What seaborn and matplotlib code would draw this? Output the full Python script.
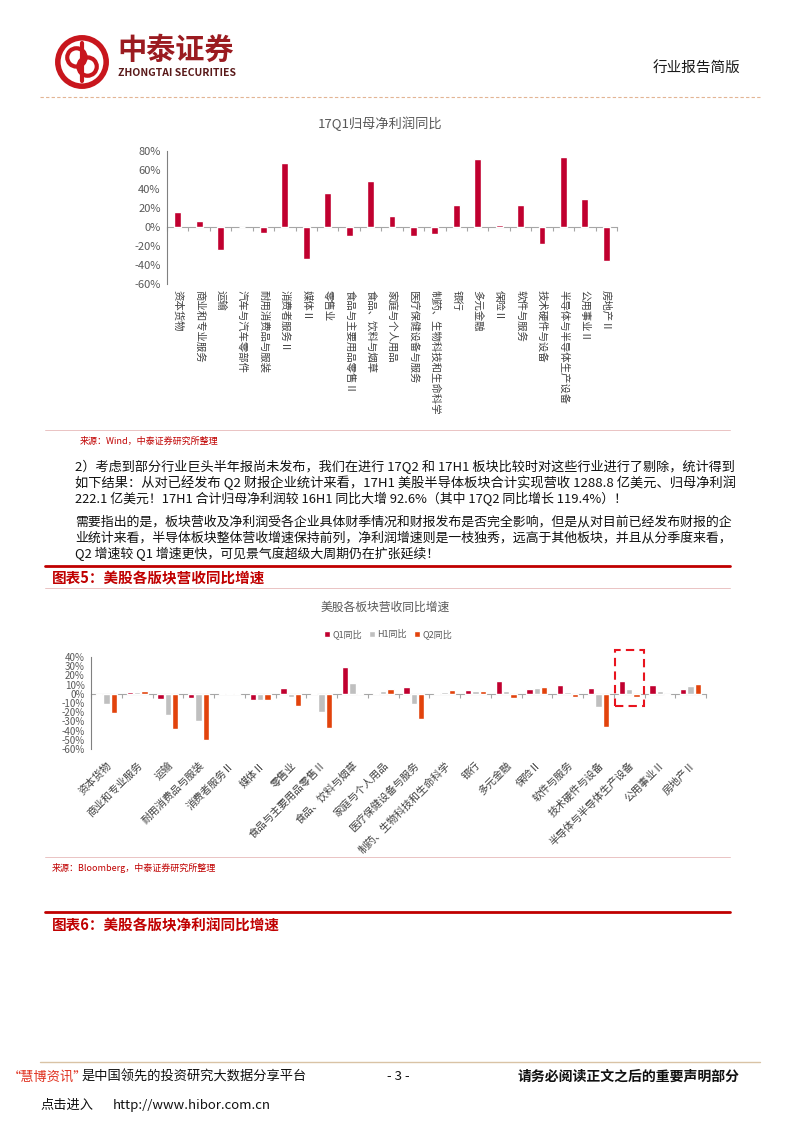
import matplotlib.pyplot as plt
import pandas as pd
import seaborn as sns
from matplotlib.lines import Line2D
from matplotlib.patches import Circle, Patch, Rectangle
from matplotlib.ticker import FuncFormatter

W, H = 793, 1122

# chart 1: 17Q1 net profit yoy
PROFIT_CATEGORIES = ["资本货物", "商业和专业服务", "运输", "汽车与汽车零部件", "耐用消费品与服装",
                     "消费者服务Ⅱ", "媒体Ⅱ", "零售业", "食品与主要用品零售Ⅱ", "食品、饮料与烟草",
                     "家庭与个人用品", "医疗保健设备与服务", "制药、生物科技和生命科学", "银行", "多元金融",
                     "保险Ⅱ", "软件与服务", "技术硬件与设备", "半导体与半导体生产设备", "公用事业Ⅱ", "房地产Ⅱ"]
PROFIT_Q1 = [15.4, 5.9, -24.5, 0, -6.6, 67.8, -33.5, 35.3, -9.8, 47.9, 11.2, -9.8, -7.7,
             22.7, 72, 1.7, 22.7, -18.2, 74, 29, -36]

# chart 2: revenue yoy
REVENUE_CATEGORIES = ["资本货物", "商业和专业服务", "运输", "耐用消费品与服装", "消费者服务Ⅱ", "媒体Ⅱ",
                      "零售业", "食品与主要用品零售Ⅱ", "食品、饮料与烟草", "家庭与个人用品",
                      "医疗保健设备与服务", "制药、生物科技和生命科学", "银行", "多元金融", "保险Ⅱ",
                      "软件与服务", "技术硬件与设备", "半导体与半导体生产设备", "公用事业Ⅱ", "房地产Ⅱ"]
REVENUE_Q1 = [-1, 2, -5.8, -4.3, 1, -6.5, 6, 1, 29.2, 1, 7.6, 1.4, 4.3, 14, 5, 9.4, 6.1, 14, 9.4, 5]
REVENUE_H1 = [-11.5, 2.5, -22.7, -29.6, 0.5, -6.5, -4, -19.5, 11.5, 3.2, -10.8, 2, 3.2, 2.9, 6, 2.2,
              -14.4, 5, 2.9, 8.3]
REVENUE_Q2 = [-20.6, 3, -38.6, -50, 1, -6.5, -13.7, -37.5, 1, 5.4, -27.8, 4.3, 3.2, -4.7, 7.2, -3.2,
              -36.5, -3.2, -1.8, 10.5]
SERIES_NAMES = ["Q1同比", "H1同比", "Q2同比"]
HIGHLIGHT = "半导体与半导体生产设备"

PARA1 = ["2）考虑到部分行业巨头半年报尚未发布，我们在进行 17Q2 和 17H1 板块比较时对这些行业进行了剔除，统计得到",
         "如下结果：从对已经发布 Q2 财报企业统计来看，17H1 美股半导体板块合计实现营收 1288.8 亿美元、归母净利润",
         "222.1 亿美元！17H1 合计归母净利润较 16H1 同比大增 92.6%（其中 17Q2 同比增长 119.4%）！"]
PARA2 = ["需要指出的是，板块营收及净利润受各企业具体财季情况和财报发布是否完全影响，但是从对目前已经发布财报的企",
         "业统计来看，半导体板块整体营收增速保持前列，净利润增速则是一枝独秀，远高于其他板块，并且从分季度来看，",
         "Q2 增速较 Q1 增速更快，可见景气度超级大周期仍在扩张延续！"]

RED = "#C0002F"
GRAY = "#BFBFBF"
ORANGE = "#E2430C"
DARK_RED = "#C00000"
TEXT_GRAY = "#595959"


def px_axes(fig, left, top, right, bottom):
    return fig.add_axes([left / W, 1 - bottom / H, (right - left) / W, (bottom - top) / H])


def fig_text(fig, x, y, s, **kw):
    kw.setdefault("va", "center")
    return fig.text(x / W, 1 - y / H, s, **kw)


def fig_line(fig, x0, x1, y, **kw):
    fig.add_artist(Line2D([x0 / W, x1 / W], [1 - y / H, 1 - y / H], transform=fig.transFigure, **kw))


def zero_line(ax, n):
    sec = ax.secondary_xaxis(0, transform=ax.transData)
    sec.set_alignment("bottom")
    sec.set_xticks([i + 0.5 for i in range(-1, n)])
    sec.tick_params(axis="x", length=3, color="#A6A6A6", labelbottom=False, direction="out")
    sec.spines["bottom"].set_color("#A6A6A6")
    sec.spines["bottom"].set_linewidth(0.8)
    return sec


def style_value_axis(ax, lo, hi, step, fontsize):
    ax.set_ylim(lo, hi)
    ax.set_yticks(range(lo, hi + 1, step))
    ax.yaxis.set_major_formatter(FuncFormatter(lambda v, _: f"{v:.0f}%"))
    ax.tick_params(axis="y", length=3, color="#808080", labelsize=fontsize, labelcolor=TEXT_GRAY, pad=1.5)
    ax.tick_params(axis="x", length=0)
    for side in ["top", "right", "bottom"]:
        ax.spines[side].set_visible(False)
    ax.spines["left"].set_color("#808080")
    ax.spines["left"].set_linewidth(0.8)
    ax.set_xlabel("")
    ax.set_ylabel("")
    ax.grid(False)


def draw_header(fig):
    logo = px_axes(fig, 54, 34, 110, 90)
    logo.set_xlim(-1.1, 1.1)
    logo.set_ylim(-1.1, 1.1)
    logo.set_aspect("equal")
    logo.axis("off")
    logo.add_patch(Circle((0, 0), 0.95, fill=False, ec="#C8161D", lw=4))
    logo.add_patch(Circle((-0.22, 0.18), 0.36, fill=False, ec="#C8161D", lw=3))
    logo.add_patch(Circle((0.22, -0.18), 0.36, fill=False, ec="#C8161D", lw=3))
    logo.plot([0, 0], [-0.75, 0.75], color="#C8161D", lw=3)

    fig_text(fig, 117, 50, "中泰证券", fontsize=21, weight="bold", color="#9B1B20")
    fig_text(fig, 118, 73, "ZHONGTAI SECURITIES", fontsize=7.5, weight="bold", color="#5A1A1A")
    fig_text(fig, 740, 68, "行业报告简版", fontsize=10.5, ha="right", color="#1A1A1A")
    fig_line(fig, 40, 760, 97, color="#E3B594", lw=0.8, ls=(0, (3, 2)))


def draw_profit_chart(fig):
    ax = px_axes(fig, 167, 151, 617, 284)
    sns.barplot(x=PROFIT_CATEGORIES, y=PROFIT_Q1, color=RED, width=0.32, saturation=1, ax=ax)
    style_value_axis(ax, -60, 80, 20, 8)
    ax.set_xticks(range(len(PROFIT_CATEGORIES)))
    ax.set_xticklabels(PROFIT_CATEGORIES, rotation=-90, ha="center", va="top", fontsize=7.5, color="#404040")
    ax.tick_params(axis="x", pad=4)
    zero_line(ax, len(PROFIT_CATEGORIES))
    fig_text(fig, 380, 124, "17Q1归母净利润同比", fontsize=9.5, ha="center", color=TEXT_GRAY)


def draw_revenue_chart(fig):
    df = pd.DataFrame({
        "category": REVENUE_CATEGORIES * 3,
        "series": [s for s in SERIES_NAMES for _ in REVENUE_CATEGORIES],
        "value": REVENUE_Q1 + REVENUE_H1 + REVENUE_Q2,
    })
    palette = [RED, GRAY, ORANGE]
    ax = px_axes(fig, 91, 657, 706, 749)
    sns.barplot(data=df, x="category", y="value", hue="series", palette=palette, width=0.72, gap=0.15,
                saturation=1, legend=False, ax=ax)
    style_value_axis(ax, -60, 40, 10, 7)
    ax.set_xticks(range(len(REVENUE_CATEGORIES)))
    ax.set_xticklabels(REVENUE_CATEGORIES, rotation=45, ha="right", rotation_mode="anchor",
                       fontsize=7.5, color="#404040")
    ax.tick_params(axis="x", pad=8)
    zero_line(ax, len(REVENUE_CATEGORIES))

    idx = REVENUE_CATEGORIES.index(HIGHLIGHT)
    ax.add_patch(Rectangle((idx - 0.47, -13), 0.94, 61, fill=False, ec="#E8141E", lw=1.5,
                           ls=(0, (4, 2.5)), clip_on=False))

    fig_text(fig, 385, 607, "美股各板块营收同比增速", fontsize=8.5, ha="center", color=TEXT_GRAY)
    handles = [Patch(facecolor=c, label=n) for c, n in zip(palette, SERIES_NAMES)]
    fig.legend(handles=handles, loc="center", bbox_to_anchor=(388 / W, 1 - 634 / H), ncol=3,
               frameon=False, fontsize=6.5, handlelength=0.7, handleheight=0.7, handletextpad=0.2,
               columnspacing=0.8, labelcolor=TEXT_GRAY)


def write_paragraph(fig, renderer, lines, top):
    # stretch every line but the last to the right margin, like justified text
    for i, line in enumerate(lines):
        t = fig_text(fig, 75, top + 16 * i, line, fontsize=9.3, color="#111111")
        if i < len(lines) - 1:
            width = t.get_window_extent(renderer).width
            t.set_fontsize(9.3 * 658 / width)


def draw_body_text(fig, renderer):
    fig_line(fig, 45, 730, 430, color="#E6B9B9", lw=0.6)
    fig_text(fig, 80, 441, "来源：Wind，中泰证券研究所整理", fontsize=6.5, color=DARK_RED)

    write_paragraph(fig, renderer, PARA1, 467)
    write_paragraph(fig, renderer, PARA2, 522)

    fig_line(fig, 45, 730, 566, color=DARK_RED, lw=2)
    fig_text(fig, 52, 578, "图表5：美股各版块营收同比增速", fontsize=10.5, weight="bold", color=DARK_RED)
    fig_line(fig, 45, 730, 588, color="#E6B9B9", lw=0.6)

    fig_line(fig, 45, 730, 857, color="#E6B9B9", lw=0.6)
    fig_text(fig, 52, 868, "来源：Bloomberg，中泰证券研究所整理", fontsize=6.5, color=DARK_RED)

    fig_line(fig, 45, 730, 912, color=DARK_RED, lw=2)
    fig_text(fig, 52, 925, "图表6：美股各版块净利润同比增速", fontsize=10.5, weight="bold", color=DARK_RED)


def draw_footer(fig, renderer):
    fig_line(fig, 40, 760, 1062, color="#D9C3A5", lw=1)
    brand = fig_text(fig, 8, 1077, "“慧博资讯”", fontsize=9.5, color="#E0301E")
    # the full-width closing quote leaves empty space on its right
    brand_right = brand.get_window_extent(renderer).x1
    fig_text(fig, brand_right - 6, 1077, "是中国领先的投资研究大数据分享平台", fontsize=9.5, color="#111111")
    fig_text(fig, 398, 1077, "- 3 -", fontsize=9.5, ha="center", color="#111111")
    fig_text(fig, 740, 1077, "请务必阅读正文之后的重要声明部分", fontsize=10, weight="bold", ha="right",
             color="#111111")
    fig_text(fig, 40, 1105, "点击进入", fontsize=9.5, color="#111111")
    fig_text(fig, 113, 1105, "http://www.hibor.com.cn", fontsize=9.5, color="#111111")


def main():
    sns.set_style("white")
    plt.rcParams["font.family"] = ["Noto Sans CJK SC", "DejaVu Sans"]
    plt.rcParams["axes.unicode_minus"] = False

    fig = plt.figure(figsize=(W / 100, H / 100), dpi=100)
    fig.patch.set_facecolor("white")
    renderer = fig.canvas.get_renderer()

    draw_header(fig)
    draw_profit_chart(fig)
    draw_body_text(fig, renderer)
    draw_revenue_chart(fig)
    draw_footer(fig, renderer)

    fig.savefig("out.png", dpi=100, facecolor="white")


if __name__ == "__main__":
    main()
